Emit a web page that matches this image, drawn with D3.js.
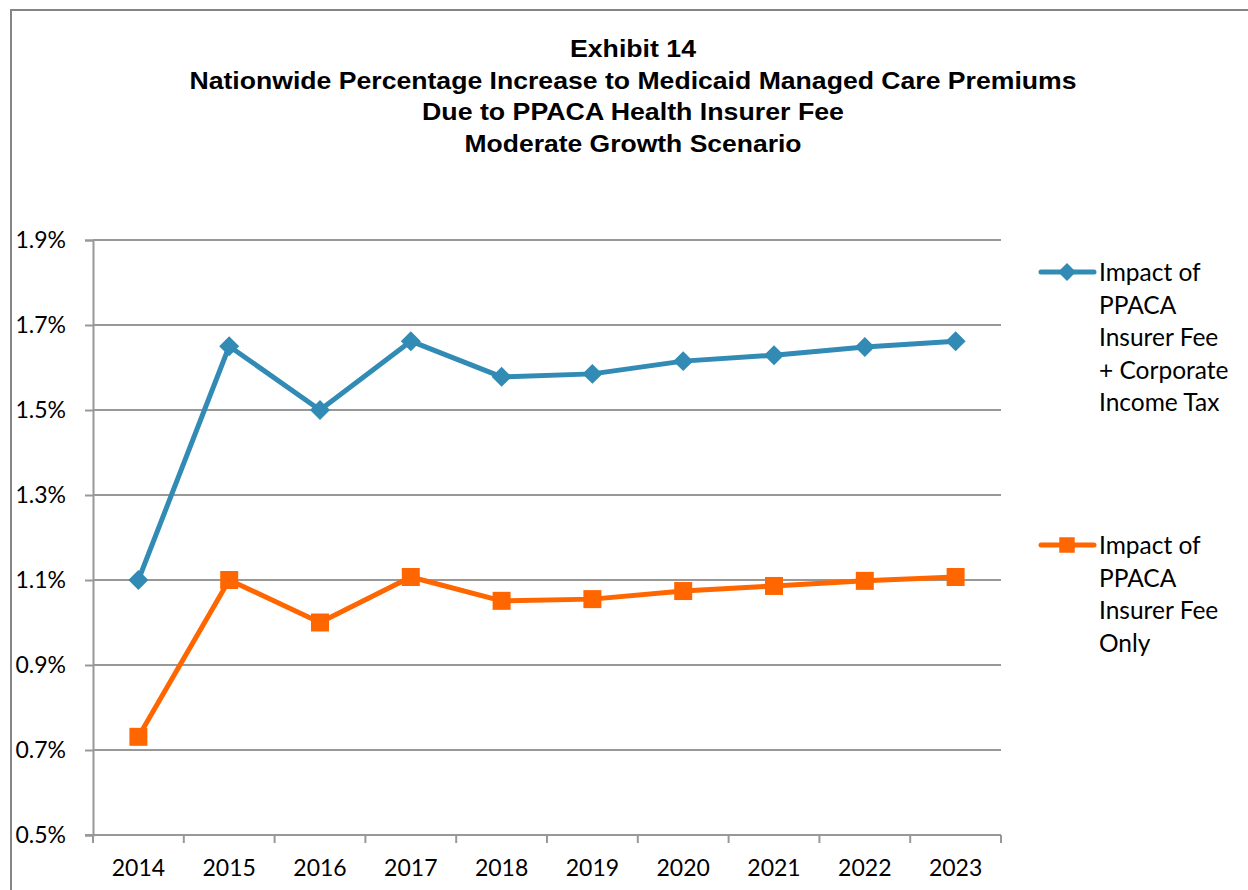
<!DOCTYPE html>
<html>
<head>
<meta charset="utf-8">
<script src="https://cdn.jsdelivr.net/npm/d3@7"></script>
<style>
  html, body { margin: 0; padding: 0; background: #fff; }
  svg { display: block; }
</style>
</head>
<body>
<svg id="chart" width="1248" height="890"></svg>
<script>
const years = ["2014","2015","2016","2017","2018","2019","2020","2021","2022","2023"];
const seriesNames = [
  ["Impact of", "PPACA", "Insurer Fee", "+ Corporate", "Income Tax"],
  ["Impact of", "PPACA", "Insurer Fee", "Only"]
];
const feeTaxValues = [1.10, 1.65, 1.50, 1.662, 1.578, 1.585, 1.615, 1.629, 1.648, 1.662];
const feeOnlyValues = [0.731, 1.10, 1.00, 1.107, 1.051, 1.055, 1.074, 1.086, 1.098, 1.107];
const yTicks = [0.5, 0.7, 0.9, 1.1, 1.3, 1.5, 1.7, 1.9];
const titleLines = [
  "Exhibit 14",
  "Nationwide Percentage Increase to Medicaid Managed Care Premiums",
  "Due to PPACA Health Insurer Fee",
  "Moderate Growth Scenario"
];

const svg = d3.select("#chart");
const W = 1248, H = 890;
const margin = {left: 93, right: 1001, top: 240, bottom: 835};
const blue = "#318bb4", orange = "#ff6600", gridC = "#989898";
const labelFont = "Lato, 'Open Sans', sans-serif";

// outer border
svg.append("path")
  .attr("d", `M11,${H+2} L11,10 L${W+2},10`)
  .attr("fill", "none").attr("stroke", "#858585").attr("stroke-width", 2);

// title
const title = svg.append("text")
  .attr("text-anchor", "middle")
  .attr("font-family", "'Liberation Sans', Arial, sans-serif")
  .attr("font-weight", "bold")
  .attr("font-size", 24)
  .attr("fill", "#000");
titleLines.forEach((t, i) => {
  const ts = title.append("tspan").attr("x", 633).attr("y", 57 + i * 31.5).text(t);
});
// stretch to reference widths
const titleWidths = [126, 887, 422, 337];
title.selectAll("tspan").each(function(d, i) {
  d3.select(this).attr("textLength", titleWidths[i]).attr("lengthAdjust", "spacingAndGlyphs");
});

const x = d3.scaleBand().domain(years).range([margin.left, margin.right]);
const y = d3.scaleLinear().domain([0.5, 1.9]).range([margin.bottom, margin.top]);

// gridlines
svg.append("g").selectAll("line").data(yTicks.slice(1)).join("line")
  .attr("x1", margin.left).attr("x2", margin.right)
  .attr("y1", d => y(d)).attr("y2", d => y(d))
  .attr("stroke", gridC).attr("stroke-width", 2);

// y axis
const yAxis = svg.append("g")
  .attr("transform", `translate(${margin.left},0)`)
  .call(d3.axisLeft(y).tickValues(yTicks).tickSize(8).tickPadding(19)
    .tickFormat(d => d3.format(".1f")(d) + "%"));
yAxis.select(".domain").attr("stroke", gridC).attr("stroke-width", 2);
yAxis.selectAll(".tick line").attr("stroke", gridC).attr("stroke-width", 2);
yAxis.selectAll(".tick text").attr("font-family", labelFont).attr("font-size", 23).attr("fill", "#000");

// x axis
const xAxis = svg.append("g")
  .attr("transform", `translate(0,${margin.bottom})`)
  .call(d3.axisBottom(x).tickSize(0).tickPadding(25));
xAxis.select(".domain").remove();
xAxis.selectAll(".tick text").attr("font-family", labelFont).attr("font-size", 23).attr("fill", "#000");
svg.append("line").attr("x1", margin.left - 8).attr("x2", margin.right)
  .attr("y1", margin.bottom).attr("y2", margin.bottom)
  .attr("stroke", gridC).attr("stroke-width", 2);
const bounds = years.map(d => x(d)).concat([x(years[years.length-1]) + x.bandwidth()]);
svg.append("g").selectAll("line").data(bounds).join("line")
  .attr("x1", d => d).attr("x2", d => d)
  .attr("y1", margin.bottom).attr("y2", margin.bottom + 8)
  .attr("stroke", gridC).attr("stroke-width", 2);

const cx = d => x(d) + x.bandwidth() / 2;
const line = d3.line().x(d => cx(d[0])).y(d => y(d[1]));

function drawSeries(vals, color, shape) {
  const data = years.map((yr, i) => [yr, vals[i]]);
  svg.append("path").datum(data).attr("d", line)
    .attr("fill", "none").attr("stroke", color).attr("stroke-width", 5)
    .attr("stroke-linejoin", "round");
  const sym = d3.symbol().type(d3.symbolSquare)
    .size(shape === "diamond" ? 200 : 324);
  svg.append("g").selectAll("path").data(data).join("path")
    .attr("d", sym)
    .attr("transform", d => `translate(${cx(d[0])},${y(d[1])})` + (shape === "diamond" ? " rotate(45)" : ""))
    .attr("fill", color);
}
drawSeries(feeTaxValues, blue, "diamond");
drawSeries(feeOnlyValues, orange, "square");

// legend
function legend(names, color, shape, ly) {
  const g = svg.append("g");
  g.append("line").attr("x1", 1041).attr("x2", 1094).attr("y1", ly).attr("y2", ly)
    .attr("stroke", color).attr("stroke-width", 5).attr("stroke-linecap", "round");
  g.append("path")
    .attr("d", d3.symbol().type(d3.symbolSquare).size(shape === "diamond" ? 160 : 240))
    .attr("transform", `translate(1067,${ly})` + (shape === "diamond" ? " rotate(45)" : ""))
    .attr("fill", color);
  const t = g.append("text").attr("font-family", labelFont).attr("font-size", 24.5).attr("fill", "#000");
  names.forEach((n, i) => {
    t.append("tspan").attr("x", 1099).attr("y", ly + 9 + i * 32.6).text(n);
  });
}
legend(seriesNames[0], blue, "diamond", 272);
legend(seriesNames[1], orange, "square", 545);
</script>
</body>
</html>
